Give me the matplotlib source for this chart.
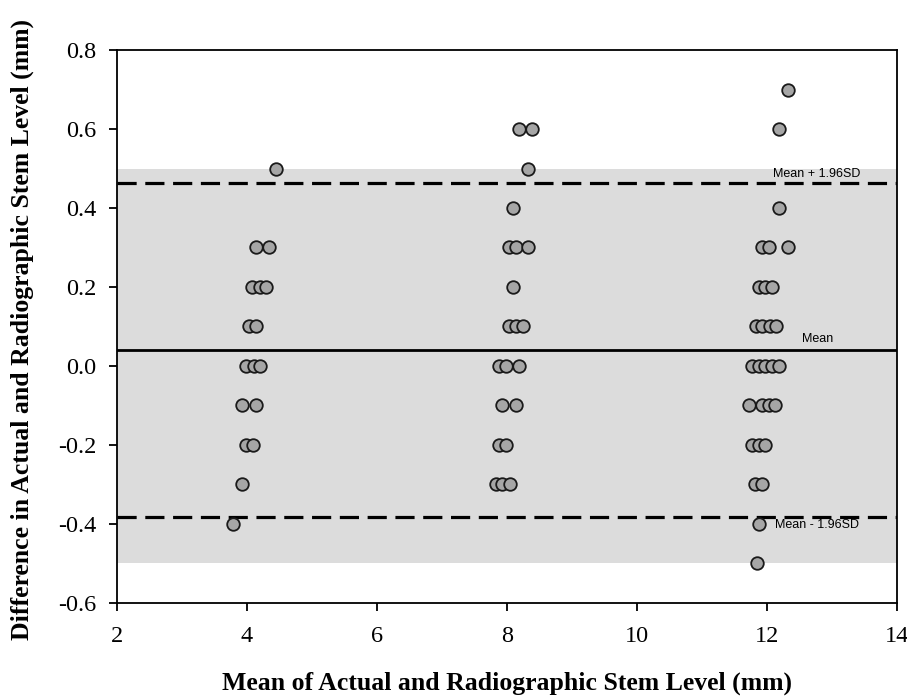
import matplotlib
matplotlib.use("Agg")
import matplotlib.pyplot as plt
import numpy as np

# Bland-Altman points, grouped by stem-level cluster (x = mean, y = difference)
x_4 = [4.44, 4.14, 4.34, 4.08, 4.20, 4.29, 4.03, 4.14, 3.99, 4.10, 4.20,
       3.93, 4.14, 3.98, 4.09, 3.93, 3.78]
y_4 = [0.5, 0.3, 0.3, 0.2, 0.2, 0.2, 0.1, 0.1, 0.0, 0.0, 0.0,
       -0.1, -0.1, -0.2, -0.2, -0.3, -0.4]

x_8 = [8.18, 8.39, 8.33, 8.09, 8.03, 8.14, 8.33, 8.09, 8.03, 8.14, 8.24,
       7.88, 7.98, 8.18, 7.93, 8.14, 7.88, 7.98, 7.83, 7.93, 8.04]
y_8 = [0.6, 0.6, 0.5, 0.4, 0.3, 0.3, 0.3, 0.2, 0.1, 0.1, 0.1,
       0.0, 0.0, 0.0, -0.1, -0.1, -0.2, -0.2, -0.3, -0.3, -0.3]

x_12 = [12.33, 12.18, 12.18, 11.92, 12.03, 12.33, 11.87, 11.97, 12.08,
        11.83, 11.93, 12.04, 12.14, 11.77, 11.87, 11.97, 12.08, 12.18,
        11.72, 11.92, 12.03, 12.13, 11.77, 11.87, 11.97, 11.82, 11.92,
        11.88, 11.84]
y_12 = [0.7, 0.6, 0.4, 0.3, 0.3, 0.3, 0.2, 0.2, 0.2,
        0.1, 0.1, 0.1, 0.1, 0.0, 0.0, 0.0, 0.0, 0.0,
        -0.1, -0.1, -0.1, -0.1, -0.2, -0.2, -0.2, -0.3, -0.3,
        -0.4, -0.5]

mean_diff = 0.04
upper_loa = 0.463
lower_loa = -0.383
band = (-0.5, 0.5)

xs = x_4 + x_8 + x_12
ys = y_4 + y_8 + y_12

plt.rcParams["font.family"] = ["Liberation Serif", "DejaVu Serif"]

fig = plt.figure(figsize=(9.07, 6.96), dpi=100)
ax = fig.add_axes([0.129, 0.134, 0.860, 0.794])

ax.axhspan(band[0], band[1], color="#dcdcdc", lw=0, zorder=0)
ax.axhline(mean_diff, color="black", lw=2.0, zorder=1)
for lv in (upper_loa, lower_loa):
    ax.axhline(lv, color="black", lw=2.3, dashes=(6.0, 2.7), zorder=1)

ax.scatter(xs, ys, s=82, facecolor="#a6a6a6", edgecolor="#1a1a1a",
           linewidth=1.3, zorder=3)

lbl_kw = dict(family=["Liberation Sans", "DejaVu Sans"], fontsize=9, va="center")
ax.text(12.09, 0.487, "Mean + 1.96SD", **lbl_kw)
ax.text(12.54, 0.069, "Mean", **lbl_kw)
ax.text(12.12, -0.403, "Mean - 1.96SD", **lbl_kw)

ax.set_xlim(2, 14)
ax.set_ylim(-0.6, 0.8)
ax.set_xticks(np.arange(2, 15, 2))
ax.set_yticks(np.arange(-0.6, 0.81, 0.2))
ax.set_yticklabels([f"{v:.1f}" for v in np.arange(-0.6, 0.81, 0.2)])
ax.tick_params(direction="out", length=6, width=1.3, labelsize=17.5)
ax.tick_params(axis="x", pad=11)
ax.tick_params(axis="y", pad=9)
for sp in ax.spines.values():
    sp.set_linewidth(1.3)

ax.set_xlabel("Mean of Actual and Radiographic Stem Level (mm)",
              fontsize=18.5, fontweight="bold")
ax.set_ylabel("Difference in Actual and Radiographic Stem Level (mm)",
              fontsize=18.5, fontweight="bold")
ax.xaxis.set_label_coords(0.5, -0.124)
ax.yaxis.set_label_coords(-0.106, 0.495)

fig.savefig("out.png", dpi=100)
